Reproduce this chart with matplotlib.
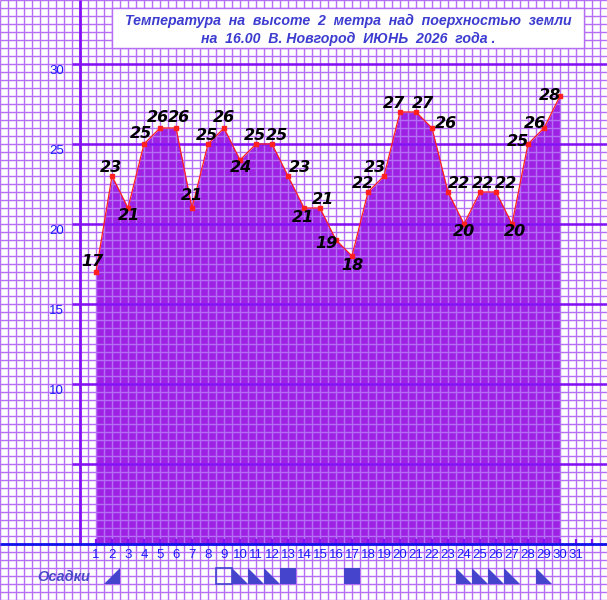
import numpy as np
import matplotlib.pyplot as plt
from matplotlib.patches import Polygon, Rectangle

# temperature at 16:00, June, one value per day
days = list(range(1, 31))
temps = [17, 23, 21, 25, 26, 26, 21, 25, 26, 24, 25, 25, 23, 21, 21,
         19, 18, 22, 23, 27, 27, 26, 22, 20, 22, 22, 20, 25, 26, 28]

# precipitation marks: 'tr' = rising triangle, 'tl' = falling triangle,
# 'sq' = filled square, 'open' = empty square
precip_days = [2, 9, 10, 11, 12, 13, 17, 24, 25, 26, 27, 29]
precip_kinds = ['tr', 'open', 'tl', 'tl', 'tl', 'sq', 'sq', 'tl', 'tl', 'tl', 'tl', 'tl']

day_labels = [str(d) for d in range(1, 32)]
ytick_vals = [10, 15, 20, 25, 30]
title_lines = ['Температура  на  высоте  2  метра  над  поерхностью  земли',
               'на  16.00  В. Новгород  ИЮНЬ  2026  года .']

# label offsets in pixels (dx, dy) relative to each point
label_off = [(-4, 10), (-1, 9), (1, -8), (-3, 10), (-2, 11), (3, 11), (0, 12),
             (-1, 9), (0, 11), (1, -8), (-1, 9), (5, 9), (12, 9), (-1, -9),
             (3, 9), (-10, -3), (0, -9), (-5, 8), (-9, 9), (-6, 9), (7, 9),
             (14, 4), (11, 9), (0, -8), (3, 9), (10, 9), (3, -8), (-10, 2),
             (-9, 4), (-10, 1)]

GRID = '#b56ef6'
THICK = '#8410f5'
FILL = '#9d22e3'
BLUE_TXT = '#1a1aff'
SYM = '#4444cc'
SANS = ['Liberation Sans', 'DejaVu Sans']

fig = plt.figure(figsize=(6.07, 6.0), dpi=100)
ax = fig.add_axes([0, 0, 1, 1])
ax.set_xlim(-5, 32.9375)
ax.set_ylim(-3.5, 34)
ax.axis('off')

# minor grid, every half unit
xg = np.arange(-5, 33, 0.5)
yg = np.arange(-3.5, 34.01, 0.5)
ax.vlines(xg, -3.5, 34, color=GRID, lw=1.0, zorder=2)
ax.hlines(yg, -5, 33, color=GRID, lw=1.0, zorder=2)

# area + line
ax.fill_between(days, 0, temps, color=FILL, lw=0, zorder=1)
ax.plot(days, temps, color='#ff2020', lw=0.9, marker='s', ms=2.2, zorder=5)

# major lines
ax.hlines([5, 10, 15, 20, 25, 30], -0.5, 33, color=THICK, lw=1.8, zorder=3)
ax.vlines(0, 0, 34, color=THICK, lw=2.0, zorder=3)
ax.vlines(range(1, 33), 0, 0.33, color=THICK, lw=1.6, zorder=3)
ax.hlines(0, -5, 33, color='#1010e8', lw=2.0, zorder=4)

for v in ytick_vals:
    ax.text(-1.45, v - 0.45, str(v), color=BLUE_TXT, fontsize=9.5,
            family=SANS, ha='center', va='center', zorder=6)

for i, lab in enumerate(day_labels):
    ax.text(i + 1, -0.7, lab, color=BLUE_TXT, fontsize=9.5, family=SANS,
            ha='center', va='center', zorder=6)

# value labels
for d, t, (dx, dy) in zip(days, temps, label_off):
    ax.annotate(str(t), (d, t), xytext=(dx, dy), textcoords='offset pixels',
                ha='center', va='center', fontsize=11.5, fontweight='bold',
                fontstyle='italic', color='black', zorder=7)

# title box
ax.add_patch(Rectangle((2, 31), 29.5, 2.5, facecolor='white', edgecolor=GRID,
                       lw=1.0, zorder=6))
for i, line in enumerate(title_lines):
    ax.text(16.75, 32.72 - 1.17 * i, line, ha='center', va='center',
            fontsize=10.2, fontweight='bold', fontstyle='italic',
            family=SANS, color='#3c3cd0', zorder=7)

# precipitation row
ax.text(-1.0, -2.05, 'Осадки', ha='center', va='center', fontsize=10.5,
        fontweight='bold', fontstyle='italic', family=SANS,
        color='#4a4ac8', zorder=7)
y0, y1 = -2.5, -1.5
for d, k in zip(precip_days, precip_kinds):
    x0, x1 = d - 0.5, d + 0.5
    if k == 'tr':
        ax.add_patch(Polygon([(x0, y0), (x1, y0), (x1, y1)], closed=True,
                             facecolor=SYM, edgecolor='none', zorder=6))
    elif k == 'tl':
        ax.add_patch(Polygon([(x0, y1), (x0, y0), (x1, y0)], closed=True,
                             facecolor=SYM, edgecolor='none', zorder=6))
    elif k == 'sq':
        ax.add_patch(Rectangle((x0, y0), 1, 1, facecolor=SYM,
                               edgecolor='none', zorder=6))
    else:
        ax.add_patch(Rectangle((x0, y0), 1, 1, facecolor='none',
                               edgecolor=SYM, lw=1.2, zorder=6))

fig.savefig('out.png', dpi=100)
